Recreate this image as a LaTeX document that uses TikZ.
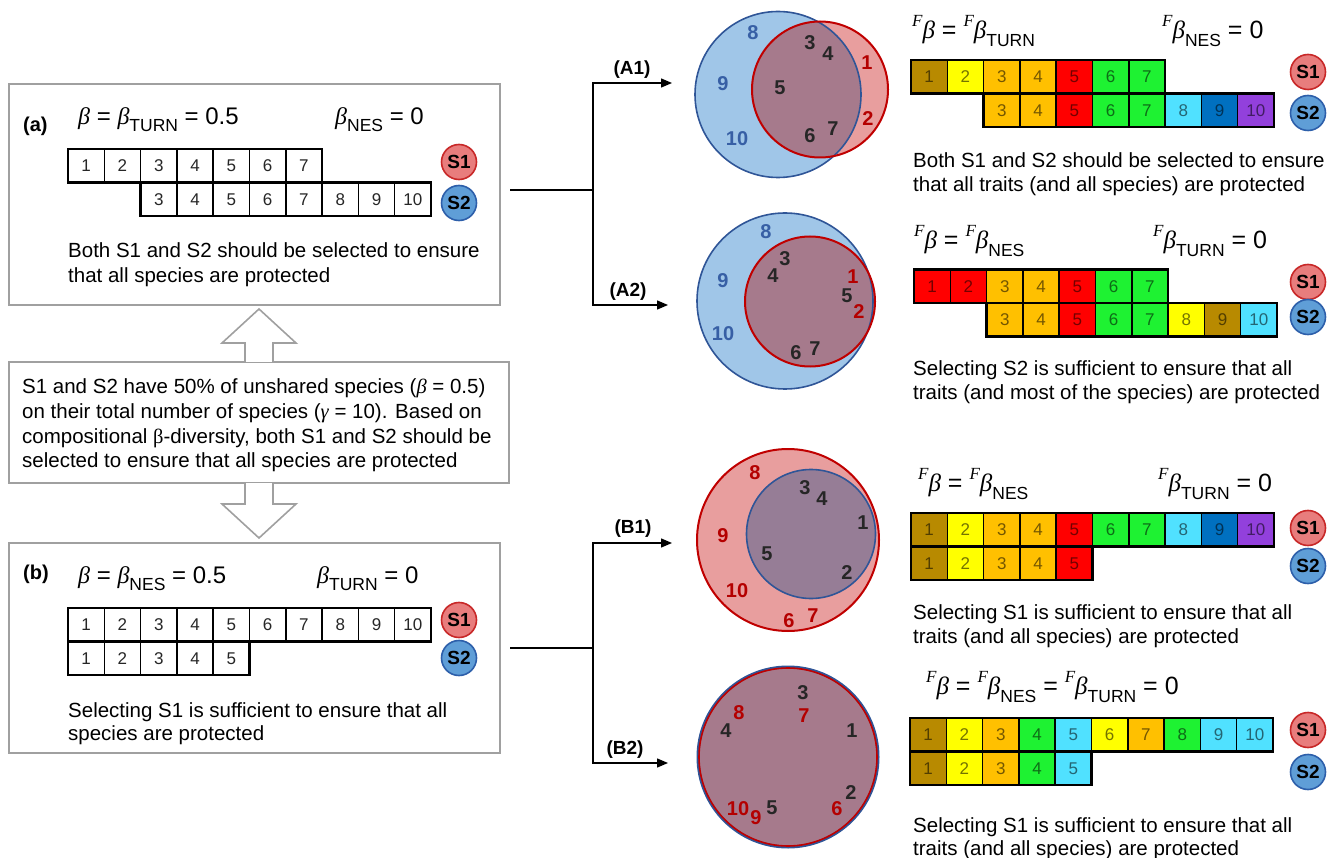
\documentclass[tikz,border=0pt]{standalone}
\usepackage{fontspec}
\setmainfont{Liberation Sans}
\newfontfamily\grkfont{Liberation Serif}
\usetikzlibrary{arrows.meta}

% palette
\definecolor{boxgray}{RGB}{160,160,160}
\definecolor{brn}{RGB}{184,138,0}
\definecolor{yel}{RGB}{255,255,0}
\definecolor{org}{RGB}{255,192,0}
\definecolor{rd}{RGB}{255,0,0}
\definecolor{grn}{RGB}{30,242,50}
\definecolor{cyn}{RGB}{80,225,255}
\definecolor{blu}{RGB}{0,112,192}
\definecolor{pur}{RGB}{146,64,220}
\definecolor{sonefill}{RGB}{232,125,125}
\definecolor{soneline}{RGB}{200,40,40}
\definecolor{stwofill}{RGB}{95,158,215}
\definecolor{stwoline}{RGB}{45,95,170}
\definecolor{vblfill}{RGB}{160,198,232}
\definecolor{vblline}{RGB}{47,85,151}
\definecolor{vrdfill}{RGB}{232,158,158}
\definecolor{vrdline}{RGB}{192,0,0}
\definecolor{vovl}{RGB}{166,122,140}
\definecolor{vovlb}{RGB}{150,125,150}
\definecolor{nblue}{RGB}{55,95,165}
\definecolor{nred}{RGB}{180,0,0}

% Greek letters and sub/superscripts of the formulas
\newcommand{\bet}{{\grkfont\itshape β}}
\newcommand{\lowtxt}[1]{\raisebox{-0.3em}{\fontsize{17.5}{17.5}\selectfont #1}}
\newcommand{\supF}{\raisebox{0.5em}{\fontsize{17}{17}\selectfont\grkfont\itshape F}}

% one row of species cells: style, name, x0, top, count, list of number/colour
\newcommand{\cellrow}[6]{%
  \foreach \n/\c [count=\i from 0] in {#6}
    \node[#1, fill=\c] (#2-\n) at ({#3+18.15+36.3*\i},{#4+16.75}) {\n};
  \draw[rowframe] (#3,#4) rectangle ({#3+36.3*#5},{#4+33.5});
}

\begin{document}
\begin{tikzpicture}[x=1pt,y=-1pt,
  panel/.style={draw=boxgray, line width=2pt, inner sep=0pt, fill=white},
  txt/.style={anchor=west, inner sep=0pt, font=\fontsize{20.5}{24}\selectfont, text height=14.7pt, text depth=0pt},
  fml/.style={anchor=west, inner sep=0pt, font=\fontsize{24}{28}\selectfont, text height=17.2pt, text depth=0pt},
  fmr/.style={fml, font=\fontsize{25}{29}\selectfont, text height=17.9pt},
  plab/.style={anchor=west, inner sep=0pt, font=\bfseries\fontsize{20}{24}\selectfont, text height=14.3pt, text depth=0pt},
  brlab/.style={inner sep=0pt, font=\bfseries\fontsize{19}{24}\selectfont, text height=13.6pt, text depth=0pt},
  vn/.style={inner sep=0pt, font=\bfseries\fontsize{20}{24}\selectfont, text height=14.3pt, text depth=0pt},
  wcell/.style={draw, line width=1.5pt, minimum width=36.3pt, minimum height=33.5pt, inner sep=0pt,
    font=\fontsize{17}{17}\selectfont, text=black!85},
  ccell/.style={wcell, text=black, text opacity=0.55},
  rowframe/.style={line width=2.6pt},
  scirc/.style={circle, minimum size=35pt, inner sep=0pt, line width=1.6pt, font=\bfseries\fontsize{19}{19}\selectfont},
  sone/.style={scirc, fill=sonefill, draw=soneline},
  stwo/.style={scirc, fill=stwofill, draw=stwoline},
  conn/.style={line width=1.4pt},
  tip/.style={conn, -{Triangle[length=11pt,width=9pt]}},
  hollow/.style={draw=boxgray, line width=1.6pt, fill=white, line join=miter}
]
\useasboundingbox (0,0) rectangle (1341,858);

% ---------------- left column: panels ----------------
\node[panel, minimum width=491pt, minimum height=221pt] (boxa) at (254.5,194.5) {};
\node[panel, minimum width=500pt, minimum height=121pt] (boxm) at (259,422.5) {};
\node[panel, minimum width=491pt, minimum height=210pt] (boxb) at (254.5,648) {};

% hollow double arrow linking the panels
\draw[hollow] (245,362) -- (245,343) -- (222,343) -- (259,309) -- (296,343) -- (273,343) -- (273,362);
\draw[hollow] (245,483) -- (245,504) -- (222,504) -- (259,538) -- (296,504) -- (273,504) -- (273,483);

% panel (a)
\node[plab] (pa) at (23,124) {(a)};
\node[fml] (fa1) at (78,116) {\bet{} = \bet\lowtxt{TURN} = 0.5};
\node[fml] (fa2) at (335,116) {\bet\lowtxt{NES} = 0};
\cellrow{wcell}{ta1}{68}{149}{7}{1/white,2/white,3/white,4/white,5/white,6/white,7/white}
\cellrow{wcell}{ta2}{140.6}{182.5}{8}{3/white,4/white,5/white,6/white,7/white,8/white,9/white,10/white}
\node[sone] (sa1) at (459,162) {S1};
\node[stwo] (sa2) at (459,203) {S2};
\node[txt] (xa1) at (68,250) {Both S1 and S2 should be selected to ensure};
\node[txt] (xa2) at (68,275) {that all species are protected};

% middle panel
\node[txt] (xm1) at (22,386) {S1 and S2 have 50\% of unshared species (\bet{} = 0.5)};
\node[txt] (xm2) at (22,411) {on their total number of species ({\grkfont\itshape γ} = 10). Based on};
\node[txt] (xm3) at (22,436) {compositional {\grkfont β}-diversity, both S1 and S2 should be};
\node[txt] (xm4) at (22,460) {selected to ensure that all species are protected};

% panel (b)
\node[plab] (pb) at (23,572) {(b)};
\node[fml] (fb1) at (78,575) {\bet{} = \bet\lowtxt{NES} = 0.5};
\node[fml] (fb2) at (317,575) {\bet\lowtxt{TURN} = 0};
\cellrow{wcell}{tb1}{68}{608}{10}{1/white,2/white,3/white,4/white,5/white,6/white,7/white,8/white,9/white,10/white}
\cellrow{wcell}{tb2}{68}{641.5}{5}{1/white,2/white,3/white,4/white,5/white}
\node[sone] (sb1) at (459,620) {S1};
\node[stwo] (sb2) at (459,658) {S2};
\node[txt] (xb1) at (68,710) {Selecting S1 is sufficient to ensure that all};
\node[txt] (xb2) at (68,733) {species are protected};

% ---------------- connectors ----------------
\coordinate (sa) at (510,190);
\coordinate (ja) at (593,190);
\coordinate (tA1) at (672,83);
\coordinate (tA2) at (668,305);
\draw[conn] (sa) -- (ja);
\draw[tip] (ja) |- (tA1);
\draw[tip] (ja) |- (tA2);
\node[brlab] (lA1) at (632,68) {(A1)};
\node[brlab] (lA2) at (628,290) {(A2)};

\coordinate (sb) at (510,648);
\coordinate (jb) at (593,648);
\coordinate (tB1) at (672,543);
\coordinate (tB2) at (668,763);
\draw[conn] (sb) -- (jb);
\draw[tip] (jb) |- (tB1);
\draw[tip] (jb) |- (tB2);
\node[brlab] (lB1) at (633,527) {(B1)};
\node[brlab] (lB2) at (625,748) {(B2)};

% ---------------- Venn diagrams ----------------
% A1: partial overlap
\fill[vblfill] (778,94.5) circle[radius=83pt];
\fill[vrdfill] (820,89.5) circle[radius=68pt];
\begin{scope}
  \clip (778,94.5) circle[radius=83pt];
  \fill[vovl] (820,89.5) circle[radius=68pt];
\end{scope}
\draw[vblline, line width=1.6pt] (778,94.5) circle[radius=83pt];
\draw[vrdline, line width=2pt] (820,89.5) circle[radius=68pt];
\foreach \t/\x/\y in {8/753/32,9/723/83,10/737/138}
  \node[vn, text=nblue] (vA1-\t) at (\x,\y) {\t};
\foreach \t/\x/\y in {3/810/42,4/828/53,5/780/87,6/810/135,7/833/128}
  \node[vn, text=black!85] (vA1-\t) at (\x,\y) {\t};
\foreach \t/\x/\y in {1/867/62,2/868/118}
  \node[vn, text=nred] (vA1-\t) at (\x,\y) {\t};

% A2: S1 nested in S2
\fill[vblfill] (785,301) circle[radius=88pt];
\fill[vovl] (810,301.5) circle[radius=65pt];
\draw[vblline, line width=1.6pt] (785,301) circle[radius=88pt];
\draw[vrdline, line width=2pt] (810,301.5) circle[radius=65pt];
\foreach \t/\x/\y in {8/766/231,9/723/280,10/723/333}
  \node[vn, text=nblue] (vA2-\t) at (\x,\y) {\t};
\foreach \t/\x/\y in {3/785/258,4/773/275,5/847/295,6/796/352,7/815/348}
  \node[vn, text=black!85] (vA2-\t) at (\x,\y) {\t};
\foreach \t/\x/\y in {1/853/276,2/859/311}
  \node[vn, text=nred] (vA2-\t) at (\x,\y) {\t};

% B1: S2 nested in S1
\fill[vrdfill] (788,540) circle[radius=91pt];
\fill[vovlb] (811,534) circle[radius=64.5pt];
\draw[vrdline, line width=2pt] (788,540) circle[radius=91pt];
\draw[vblline, line width=1.6pt] (811,534) circle[radius=64.5pt];
\foreach \t/\x/\y in {8/755/472,9/723/535,10/737/590,6/789/620,7/813/615}
  \node[vn, text=nred] (vB1-\t) at (\x,\y) {\t};
\foreach \t/\x/\y in {3/805/487,4/822/498,1/863/522,5/767/553,2/847/572}
  \node[vn, text=black!85] (vB1-\t) at (\x,\y) {\t};

% B2: identical trait space
\fill[vovl] (788,757) circle[radius=90pt];
\draw[vblline, line width=3pt] (788,757) circle[radius=90pt];
\draw[vrdline, line width=1.6pt] (788,757) circle[radius=89pt];
\foreach \t/\x/\y in {3/803/692,4/726/730,1/852/730,2/851/792,5/772/807}
  \node[vn, text=black!85] (vB2-\t) at (\x,\y) {\t};
\foreach \t/\x/\y in {7/804/715,8/739/712,6/837/808,10/738/808,9/756/817}
  \node[vn, text=nred] (vB2-\t) at (\x,\y) {\t};

% ---------------- right column: functional tables ----------------
% A1
\node[fmr] (fA1a) at (912,30) {\supF\bet{} = \supF\bet\lowtxt{TURN}};
\node[fmr] (fA1b) at (1162,30) {\supF\bet\lowtxt{NES} = 0};
\cellrow{ccell}{tA1r1}{911}{60}{7}{1/brn,2/yel,3/org,4/org,5/rd,6/grn,7/grn}
\cellrow{ccell}{tA1r2}{983.6}{93.5}{8}{3/org,4/org,5/rd,6/grn,7/grn,8/cyn,9/blu,10/pur}
\node[sone] (sA11) at (1308,72) {S1};
\node[stwo] (sA12) at (1308,113) {S2};
\node[txt] (xA1a) at (913,160) {Both S1 and S2 should be selected to ensure};
\node[txt] (xA1b) at (913,184) {that all traits (and all species) are protected};

% A2
\node[fmr] (fA2a) at (914,240) {\supF\bet{} = \supF\bet\lowtxt{NES}};
\node[fmr] (fA2b) at (1153,240) {\supF\bet\lowtxt{TURN} = 0};
\cellrow{ccell}{tA2r1}{914}{269.5}{7}{1/rd,2/rd,3/org,4/org,5/rd,6/grn,7/grn}
\cellrow{ccell}{tA2r2}{986.6}{303}{8}{3/org,4/org,5/rd,6/grn,7/grn,8/yel,9/brn,10/cyn}
\node[sone] (sA21) at (1308,282) {S1};
\node[stwo] (sA22) at (1308,317) {S2};
\node[txt] (xA2a) at (913,368) {Selecting S2 is sufficient to ensure that all};
\node[txt] (xA2b) at (913,392) {traits (and most of the species) are protected};

% B1
\node[fmr] (fB1a) at (918,483) {\supF\bet{} = \supF\bet\lowtxt{NES}};
\node[fmr] (fB1b) at (1158,483) {\supF\bet\lowtxt{TURN} = 0};
\cellrow{ccell}{tB1r1}{911}{513}{10}{1/brn,2/yel,3/org,4/org,5/rd,6/grn,7/grn,8/cyn,9/blu,10/pur}
\cellrow{ccell}{tB1r2}{911}{546.5}{5}{1/brn,2/yel,3/org,4/org,5/rd}
\node[sone] (sB11) at (1308,528) {S1};
\node[stwo] (sB12) at (1308,566) {S2};
\node[txt] (xB1a) at (913,612) {Selecting S1 is sufficient to ensure that all};
\node[txt] (xB1b) at (913,636) {traits (and all species) are protected};

% B2
\node[fmr] (fB2a) at (926,686) {\supF\bet{} = \supF\bet\lowtxt{NES} = \supF\bet\lowtxt{TURN} = 0};
\cellrow{ccell}{tB2r1}{910}{718}{10}{1/brn,2/yel,3/org,4/grn,5/cyn,6/yel,7/org,8/grn,9/cyn,10/cyn}
\cellrow{ccell}{tB2r2}{910}{751.5}{5}{1/brn,2/yel,3/org,4/grn,5/cyn}
\node[sone] (sB21) at (1308,730) {S1};
\node[stwo] (sB22) at (1308,772) {S2};
\node[txt] (xB2a) at (913,825) {Selecting S1 is sufficient to ensure that all};
\node[txt] (xB2b) at (913,848) {traits (and all species) are protected};
\end{tikzpicture}
\end{document}
